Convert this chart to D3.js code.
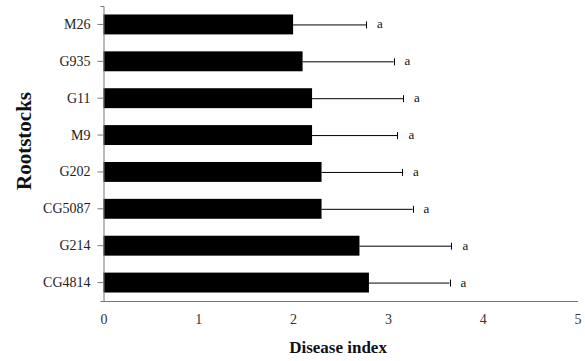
<!DOCTYPE html>
<html>
<head>
<meta charset="utf-8">
<script src="https://cdn.jsdelivr.net/npm/d3@7"></script>
<style>
  html, body { margin: 0; padding: 0; background: #fff; }
  svg { display: block; }
</style>
</head>
<body>
<svg id="chart" width="585" height="361"></svg>
<script>
// Rootstock disease index (mean with one-sided SD bar) and significance letters
const rootstocks = ["M26", "G935", "G11", "M9", "G202", "CG5087", "G214", "CG4814"];
const diseaseIndex = [2.0, 2.1, 2.2, 2.2, 2.3, 2.3, 2.7, 2.8];
const stdDev = [0.77, 0.96, 0.96, 0.90, 0.85, 0.96, 0.97, 0.85];
const groupLetters = ["a", "a", "a", "a", "a", "a", "a", "a"];
const xTicks = [0, 1, 2, 3, 4, 5];

const svg = d3.select("#chart");
const serif = "'Liberation Serif', 'Times New Roman', serif";

const x = d3.scaleLinear().domain([0, 5]).range([103.5, 577.5]);
const y = d3.scaleBand().domain(rootstocks).range([6, 301])
  .paddingInner(0.46).paddingOuter(0.23);

const rows = rootstocks.map((name, i) => ({
  name, value: diseaseIndex[i], sd: stdDev[i], letter: groupLetters[i]
}));

// bars
svg.append("g").selectAll("rect").data(rows).join("rect")
  .attr("x", x(0))
  .attr("y", d => y(d.name))
  .attr("width", d => x(d.value) - x(0))
  .attr("height", y.bandwidth())
  .attr("fill", "#000");

// error bars (positive side only)
const err = svg.append("g").attr("stroke", "#000").attr("stroke-width", 1);
err.selectAll("line.stem").data(rows).join("line")
  .attr("class", "stem")
  .attr("x1", d => x(d.value))
  .attr("x2", d => x(d.value + d.sd))
  .attr("y1", d => y(d.name) + y.bandwidth() / 2 + 0.5)
  .attr("y2", d => y(d.name) + y.bandwidth() / 2 + 0.5);
err.selectAll("line.cap").data(rows).join("line")
  .attr("class", "cap")
  .attr("x1", d => Math.round(x(d.value + d.sd)) + 0.5)
  .attr("x2", d => Math.round(x(d.value + d.sd)) + 0.5)
  .attr("y1", d => y(d.name) + y.bandwidth() / 2 - 3)
  .attr("y2", d => y(d.name) + y.bandwidth() / 2 + 4);

// significance letters
svg.append("g").selectAll("text").data(rows).join("text")
  .attr("x", d => x(d.value + d.sd) + 11)
  .attr("y", d => y(d.name) + y.bandwidth() / 2 + 4)
  .attr("font-family", serif)
  .attr("font-size", 13)
  .attr("fill", "#111")
  .text(d => d.letter);

// y axis
const yAxis = svg.append("g")
  .attr("transform", `translate(${x(0)},0)`)
  .call(d3.axisLeft(y).tickSize(6).tickPadding(7).tickSizeOuter(3));
yAxis.select(".domain").attr("stroke", "#777");
yAxis.selectAll(".tick line").attr("stroke", "#777");
yAxis.selectAll(".tick text")
  .attr("font-family", serif).attr("font-size", 14).attr("fill", "#222");

// x axis: baseline only, labels without tick marks
const xAxis = svg.append("g")
  .attr("transform", `translate(0,${y.range()[1]})`)
  .call(d3.axisBottom(x).tickValues(xTicks).tickFormat(d3.format("d"))
    .tickSize(0).tickSizeOuter(0).tickPadding(13));
xAxis.select(".domain").attr("stroke", "#777");
xAxis.selectAll(".tick text")
  .attr("font-family", serif).attr("font-size", 14).attr("fill", "#333");

// axis titles
svg.append("text")
  .attr("x", 338).attr("y", 353)
  .attr("text-anchor", "middle")
  .attr("font-family", serif).attr("font-weight", "bold").attr("font-size", 17)
  .attr("fill", "#111")
  .text("Disease index");

svg.append("text")
  .attr("transform", "translate(31,141) rotate(-90)")
  .attr("text-anchor", "middle")
  .attr("font-family", serif).attr("font-weight", "bold").attr("font-size", 21)
  .attr("fill", "#111")
  .text("Rootstocks");
</script>
</body>
</html>
